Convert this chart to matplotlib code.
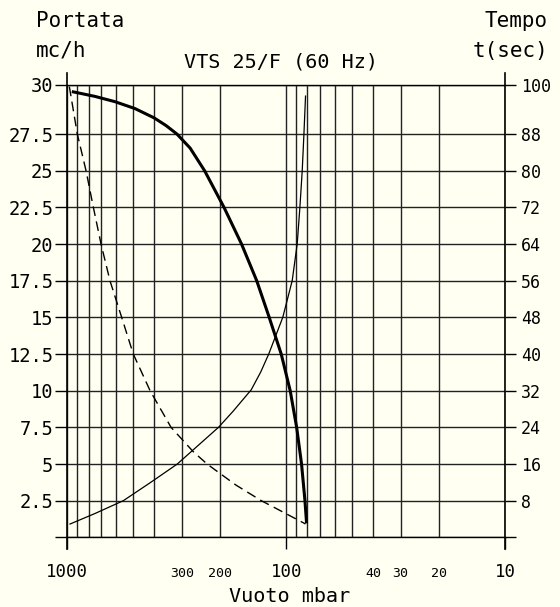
import numpy as np
import matplotlib
matplotlib.use("Agg")
import matplotlib.pyplot as plt
from matplotlib.ticker import FixedLocator, NullFormatter
import matplotlib.transforms as mtransforms

# portata (mc/h) vs vuoto (mbar) - thick curve
vac_flow = [940, 748, 606, 491, 402, 354, 315.6, 275, 236, 192.4, 160, 136.4, 119.6,
            105.4, 95.9, 89.6, 85.1, 82.1, 80.8]
flow = [30.38, 30.07, 29.71, 29.24, 28.61, 28.08, 27.5, 26.55, 25.0, 22.5, 20.0, 17.5, 15.0,
        12.5, 10.0, 7.5, 5.0, 2.5, 1.06]

# tempo (sec) vs vuoto - thin curve
vac_time = [973, 748, 555, 419, 314.6, 204, 175, 144.5, 130.7, 120.2, 103.7, 93.9, 89.1,
            86.6, 84.5, 83, 81.6]
tempo = [2.9, 5.2, 8.0, 11.9, 16.0, 24.0, 27.5, 32.2, 36.1, 40.0, 48.0, 56.0, 64.0,
         72.0, 80.0, 88.0, 96.3]

# dashed curve (portata scale)
vac_dash = [980, 901, 822, 761, 702, 639, 565, 500, 419, 336, 266, 230, 170, 130, 101, 81.6]
dash = [30.74, 27.5, 25.0, 22.5, 20.0, 17.5, 15.0, 12.5, 10.0, 7.5, 5.84, 5.0, 3.57, 2.5, 1.64, 0.91]

y_top = 30.85
left_ticks = [0, 2.5, 5, 7.5, 10, 12.5, 15, 17.5, 20, 22.5, 25, 27.5, y_top]
left_labels = ['', '2.5', '5', '7.5', '10', '12.5', '15', '17.5', '20', '22.5', '25', '27.5', '30']
right_ticks = [0, 8, 16, 24, 32, 40, 48, 56, 64, 72, 80, 88, y_top * 3.2]
right_labels = ['', '8', '16', '24', '32', '40', '48', '56', '64', '72', '80', '88', '100']

grid_x = [1000, 900, 800, 700, 600, 500, 400, 300, 200, 100, 90, 80, 70, 60, 50, 40, 30, 20, 10]
x_lab_pos = [1000, 300, 200, 100, 40, 30, 20, 10]
x_lab = ['1000', '300', '200', '100', '40', '30', '20', '10']
x_lab_big = [True, False, False, True, False, False, False, True]

bg = '#fffff2'
plt.rcParams['font.family'] = ['DejaVu Sans Mono']

fig = plt.figure(figsize=(5.6, 6.07), dpi=100, facecolor=bg)
ax = fig.add_axes([0.1204, 0.1148, 0.7814, 0.7452])
ax.set_facecolor(bg)
ax.set_xscale('log')
ax.set_xlim(1000, 10)
ax.set_ylim(0, y_top)

ax.xaxis.set_major_locator(FixedLocator([1000, 100, 10]))
ax.xaxis.set_minor_locator(FixedLocator(grid_x))
ax.xaxis.set_major_formatter(NullFormatter())
ax.xaxis.set_minor_formatter(NullFormatter())
ax.tick_params(axis='x', which='major', direction='out', length=8.6, width=1.0)
ax.tick_params(axis='x', which='minor', length=0)
ax.grid(True, axis='x', which='both', color='#222222', lw=1.0)

ax.set_yticks(left_ticks)
ax.set_yticklabels(left_labels)
ax.tick_params(axis='y', direction='out', length=8.6, width=1.0, pad=1.5, labelsize=13.5)
ax.grid(True, axis='y', color='#222222', lw=1.0)

for s in ['left', 'right']:
    ax.spines[s].set_visible(False)
for s in ['top', 'bottom']:
    ax.spines[s].set_linewidth(1.0)

ax.axvline(1000, ymin=-0.025, ymax=1.027, color='black', lw=1.2, clip_on=False)
ax.axvline(10, ymin=-0.025, ymax=1.027, color='black', lw=1.2, clip_on=False)

ax.plot(vac_flow, flow, color='black', lw=2.2, zorder=5, solid_joinstyle='round')
ax.plot(vac_dash, dash, color='black', lw=1.0, linestyle=(0, (7, 4)), zorder=5)

ax2 = ax.twinx()
ax2.set_ylim(0, y_top * 3.2)
ax2.set_yticks(right_ticks)
ax2.set_yticklabels(right_labels)
ax2.tick_params(axis='y', direction='out', length=8, width=1.0, pad=3.5, labelsize=12)
for s in ['left', 'right', 'top', 'bottom']:
    ax2.spines[s].set_visible(False)
ax2.plot(vac_time, tempo, color='black', lw=0.9, zorder=5)

trans = mtransforms.blended_transform_factory(ax.transData, ax.transAxes)
for p, t, big in zip(x_lab_pos, x_lab, x_lab_big):
    ax.text(p, -0.088, t, transform=trans, ha='center', va='baseline',
            fontsize=12.5 if big else 9.5)

W, H = 560, 607
fig.text(36 / W, 1 - 21 / H, 'Portata', ha='left', va='center', fontsize=15)
fig.text(36 / W, 1 - 50 / H, 'mc/h', ha='left', va='center', fontsize=15)
fig.text(281 / W, 1 - 62 / H, 'VTS 25/F (60 Hz)', ha='center', va='center', fontsize=14.5)
fig.text(548 / W, 1 - 21 / H, 'Tempo', ha='right', va='center', fontsize=15)
fig.text(548 / W, 1 - 51 / H, 't(sec)', ha='right', va='center', fontsize=15)
fig.text(290 / W, 1 - 597 / H, 'Vuoto mbar', ha='center', va='center', fontsize=14.5)

fig.savefig('out.png', dpi=100, facecolor=bg)
